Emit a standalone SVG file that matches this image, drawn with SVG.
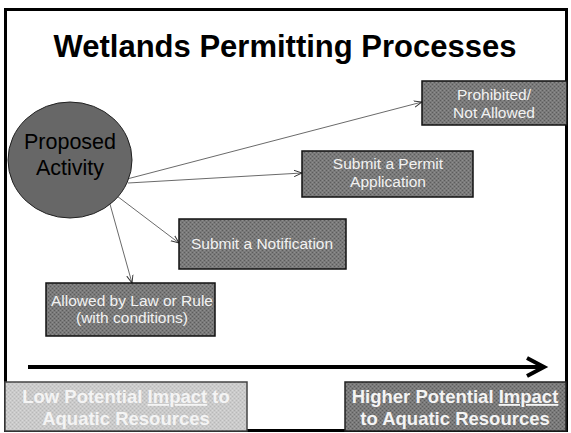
<svg xmlns="http://www.w3.org/2000/svg" width="571" height="433" viewBox="0 0 571 433">
<defs>
<pattern id="dk" width="4" height="4" patternUnits="userSpaceOnUse">
<rect width="4" height="4" fill="#7a7a7a"/>
<rect width="1" height="1" fill="#5c5c5c"/>
<rect x="2" y="2" width="1" height="1" fill="#5c5c5c"/>
<rect x="2" y="0" width="1" height="1" fill="#8e8e8e"/>
<rect x="0" y="2" width="1" height="1" fill="#8e8e8e"/>
</pattern>
<pattern id="lt" width="4" height="4" patternUnits="userSpaceOnUse">
<rect width="4" height="4" fill="#cacaca"/>
<rect width="1" height="1" fill="#b8b8b8"/>
<rect x="2" y="2" width="1" height="1" fill="#b8b8b8"/>
<rect x="2" y="0" width="1" height="1" fill="#d8d8d8"/>
<rect x="0" y="2" width="1" height="1" fill="#d8d8d8"/>
</pattern>
<marker id="ah" viewBox="0 0 10 10" refX="10" refY="5" markerWidth="8" markerHeight="8" markerUnits="userSpaceOnUse" orient="auto">
<path d="M0,1 L10,5 L0,9" fill="none" stroke="#333" stroke-width="1.2"/>
</marker>
</defs>
<style>
.box{fill:url(#dk);stroke:#111;stroke-width:1.5}
.bt{font-family:"Liberation Sans",Arial,sans-serif;font-size:15.5px;fill:#f2f2f2;text-anchor:middle}
.bb{font-family:"Liberation Sans",Arial,sans-serif;font-size:18.5px;font-weight:bold;fill:#f4f4f4;text-anchor:middle}
.con{fill:none;stroke:#444;stroke-width:0.8;marker-end:url(#ah)}
</style>
<rect x="0" y="0" width="571" height="433" fill="#fff"/>
<rect x="5.5" y="9.5" width="561" height="421" fill="none" stroke="#000" stroke-width="3"/>
<text x="285" y="57" font-family="Liberation Sans, Arial, sans-serif" font-size="31" font-weight="bold" text-anchor="middle" fill="#000">Wetlands Permitting Processes</text>

<g id="connectors">
<line class="con" x1="127" y1="179" x2="422" y2="102"/>
<line class="con" x1="128" y1="183" x2="302" y2="173"/>
<line class="con" x1="113" y1="193" x2="179" y2="243"/>
<line class="con" x1="108" y1="197" x2="132" y2="283"/>
<line x1="28" y1="367" x2="542" y2="367" stroke="#000" stroke-width="4"/>
<path d="M527,358 L544,367 L527,376" fill="none" stroke="#000" stroke-width="4"/>
</g>

<g id="proposed">
<ellipse cx="70" cy="160" rx="62" ry="58" fill="#676767" stroke="#222" stroke-width="1"/>
<text x="70" y="149" font-family="Liberation Sans, Arial, sans-serif" font-size="21.5" text-anchor="middle" fill="#000">Proposed</text>
<text x="70" y="175" font-family="Liberation Sans, Arial, sans-serif" font-size="21.5" text-anchor="middle" fill="#000">Activity</text>
</g>

<g id="prohibited">
<rect class="box" x="422" y="81" width="145" height="44"/>
<text class="bt" x="494" y="100">Prohibited/</text>
<text class="bt" x="494" y="118">Not Allowed</text>
</g>

<g id="permit">
<rect class="box" x="302" y="151" width="171" height="46"/>
<text class="bt" x="388" y="169">Submit a Permit</text>
<text class="bt" x="388" y="187">Application</text>
</g>

<g id="notification">
<rect class="box" x="179" y="219" width="167" height="50"/>
<text class="bt" x="262" y="249">Submit a Notification</text>
</g>

<g id="allowed">
<rect class="box" x="46" y="283" width="169" height="53"/>
<text class="bt" x="132" y="306">Allowed by Law or Rule</text>
<text class="bt" x="132" y="323">(with conditions)</text>
</g>

<g id="low">
<rect x="5" y="382" width="242" height="49" fill="url(#lt)" stroke="#444" stroke-width="1.5"/>
<text class="bb" x="126" y="403">Low Potential <tspan text-decoration="underline">Impact</tspan> to</text>
<text class="bb" x="126" y="425">Aquatic Resources</text>
</g>

<g id="high">
<rect x="345" y="382" width="221" height="49" fill="url(#dk)" stroke="#222" stroke-width="1.5"/>
<text class="bb" x="455" y="403">Higher Potential <tspan text-decoration="underline">Impact</tspan></text>
<text class="bb" x="455" y="425">to Aquatic Resources</text>
</g>
</svg>
